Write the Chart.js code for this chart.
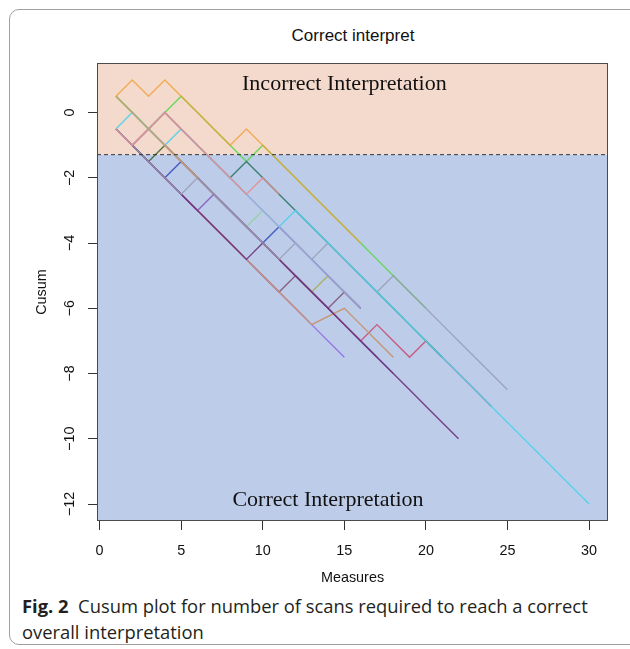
<!DOCTYPE html>
<html>
<head>
<meta charset="utf-8">
<script src="https://cdn.jsdelivr.net/npm/chart.js@4.4.1/dist/chart.umd.min.js"></script>
<style>
    html, body { margin: 0; padding: 0; background: #fff; }
    body { width: 630px; height: 649px; position: relative; overflow: hidden; }
    .card { position: absolute; left: 9px; top: 9px; width: 700px; height: 636px; border: 1px solid #a0a0a0; border-radius: 10px; box-sizing: border-box; }
    .title { position: absolute; left: 0; width: 706px; top: 26px; text-align: center; font: 17px "Liberation Sans", Arial, sans-serif; color: #111; }
    #cusumChart { position: absolute; left: 0; top: 0; }
    .caption { position: absolute; left: 22px; top: 593px; font-family: "Open Sans", "Noto Sans", sans-serif; font-size: 17px; line-height: 26px; color: #231f20; white-space: nowrap; }
    .caption b { font-weight: 700; }
</style>
</head>
<body>
<div class="card"></div>
<div class="title">Correct interpret</div>
<canvas id="cusumChart" width="630" height="590"></canvas>
<div class="caption" id="caption">
    <div id="capLine1"><b>Fig. 2</b>&nbsp; Cusum plot for number of scans required to reach a correct</div>
    <div>overall interpretation</div>
</div>
<script>
(function () {
    const canvas = document.getElementById("cusumChart");
    if (!canvas || typeof Chart === "undefined") {
        return;
    }

    // measures (x) and axis ticks
    const measures = [1, 2, 3, 4, 5, 6, 7, 8, 9, 10, 11, 12, 13, 14, 15, 16, 17, 18, 19, 20, 21, 22, 23, 24, 25, 26, 27, 28, 29, 30];
    const xTicks = [0, 5, 10, 15, 20, 25, 30];
    const yTicks = [0, -2, -4, -6, -8, -10, -12];
    const cutoff = -1.29;

    // cusum per reader (value at measure 1, 2, ...)
    const orangeCusum = [0.5, 1, 0.5, 1, 0.5, 0, -0.5, -1, -0.5, -1, -1.5, -2, -2.5, -3, -3.5, -4];
    const tanCusum = [0.5, 0, -0.5, -1, -1.5, -2];
    const salmonCusum = [-0.5, -1, -0.5, 0, -0.5, -1, -1.5, -2, -2.5, -2, -2.5];
    const lavenderCusum = [-0.5, -1, -0.5, 0, -0.5, -1, -1.5, -2, -2.5, -3, -3.5, -4, -4.5, -5, -5.5, -6];
    const cyanCusum = [-0.5, 0, -0.5, -1, -0.5, -1, -1.5, -2, -2.5, -3, -3.5, -3, -3.5, -4, -4.5, -5, -5.5, -6, -6.5, -7, -7.5, -8, -8.5, -9, -9.5, -10, -10.5, -11, -11.5, -12];
    const grayCusum = [-0.5, -1, -1.5, -2, -2.5, -2, -2.5, -3, -3.5, -4, -4.5, -4, -4.5, -4, -4.5, -5, -5.5, -5, -5.5, -6, -6.5, -7, -7.5, -8, -8.5];
    const tealCusum = [-0.5, -1, -0.5, 0, -0.5, -1, -1.5, -2, -1.5, -2, -2.5, -3, -3.5, -4, -4.5, -5, -5.5, -6, -6.5, -7, -7.5];
    const purpleCusum = [-0.5, -1, -1.5, -2, -2.5, -3, -3.5, -4, -4.5, -4, -4.5, -5, -5.5, -6, -6.5, -7, -7.5, -8, -8.5, -9, -9.5, -10];
    const mediumPurpleCusum = [-0.5, -1, -1.5, -2, -2.5, -3, -2.5, -3, -3.5, -4, -4.5, -5, -5.5, -6, -6.5, -7, -7.5, -8];
    const brownCusum = [-0.5, -1, -1.5, -2, -2.5, -3, -3.5, -4, -4.5, -5, -5.5, -6, -6.5, -6.25, -6, -6.5, -7, -7.5];
    const greenCusum = [0.5, 0, -0.5, 0, 0.5, 0, -0.5, -1, -1.5, -1, -1.5, -2, -2.5, -3, -3.5, -4, -4.5, -5, -5.5, -6];
    const redCusum = [-0.5, -1, -0.5, -1, -1.5, -2, -2.5, -3, -3.5, -4, -4.5, -5, -5.5, -6, -6.5, -7, -6.5, -7, -7.5, -7, -7.5, -8, -8.5, -9];
    const blueCusum = [-0.5, -1, -1.5, -2, -1.5, -2, -2.5, -3, -3.5, -4, -3.5, -4, -4.5, -5, -5.5, -6];
    const lightGreenCusum = [0.5, 0, -0.5, -1, -1.5, -2, -2.5, -3, -3.5, -3, -3.5, -4, -4.5, -5, -5.5];
    const violetCusum = [-0.5, -1, -1.5, -2, -2.5, -3, -3.5, -4, -4.5, -5, -5.5, -6, -6.5, -7, -7.5];
    const darkOliveCusum = [-0.5, -1, -1.5, -1, -1.5, -2, -2.5, -3, -3.5, -4, -4.5, -5, -5.5, -6, -6.5, -7, -7.5];
    const mauveCusum = [-0.5, -1, -1.5, -2, -2.5, -3, -3.5, -4, -4.5, -5, -5.5, -5, -5.5, -6, -5.5, -6];
    const oliveCusum = [0.5, 0, -0.5, -1, -1.5, -2, -2.5, -3, -3.5, -4, -4.5, -5, -5.5, -5, -5.5, -6];

    const regionLabels = [
        { text: "Incorrect Interpretation", x: 15, y: 0.87 },
        { text: "Correct Interpretation", x: 14, y: -11.87 }
    ];

    // first entry is drawn on top
    const readers = [
        { values: orangeCusum, color: "rgba(240, 160, 55, 0.8)" },
        { values: tanCusum, color: "rgba(196, 160, 118, 0.95)" },
        { values: salmonCusum, color: "rgba(232, 140, 140, 0.85)" },
        { values: lavenderCusum, color: "rgba(170, 166, 214, 0.95)" },
        { values: cyanCusum, color: "rgba(80, 208, 235, 0.92)" },
        { values: grayCusum, color: "rgba(150, 158, 180, 0.85)" },
        { values: tealCusum, color: "rgba(44, 120, 100, 0.9)" },
        { values: purpleCusum, color: "rgba(108, 50, 124, 0.9)" },
        { values: mediumPurpleCusum, color: "rgba(140, 90, 190, 0.9)" },
        { values: brownCusum, color: "rgba(200, 145, 108, 0.95)" },
        { values: greenCusum, color: "rgba(90, 215, 75, 0.9)" },
        { values: redCusum, color: "rgba(200, 80, 118, 0.9)" },
        { values: blueCusum, color: "rgba(55, 80, 190, 0.9)" },
        { values: lightGreenCusum, color: "rgba(150, 210, 165, 0.95)" },
        { values: violetCusum, color: "rgba(150, 115, 232, 0.95)" },
        { values: darkOliveCusum, color: "rgba(70, 105, 45, 0.9)" },
        { values: mauveCusum, color: "rgba(130, 85, 120, 0.9)" },
        { values: oliveCusum, color: "rgba(168, 178, 90, 0.95)" }
    ];

    const xMin = -0.16;
    const xMax = 31.16;
    const axisFont = { family: '"Liberation Sans", Arial, sans-serif', size: 14.4 };
    const formatTick = (value) => (value < 0 ? "\u2212" + Math.abs(value) : String(value));

    const datasets = [{
        data: [{ x: xMin, y: cutoff }, { x: xMax, y: cutoff }],
        borderColor: "#333",
        borderWidth: 1,
        borderDash: [4, 3],
        pointRadius: 0
    }].concat(readers.map((reader) => ({
        data: reader.values.map((value, i) => ({ x: measures[i], y: value })),
        borderColor: reader.color,
        borderWidth: 1.4,
        pointRadius: 0,
        tension: 0,
        fill: false
    })));

    const regionPlugin = {
        id: "cusumRegions",
        beforeDatasetsDraw(chart) {
            const { ctx, chartArea: area, scales: { y } } = chart;
            const cut = y.getPixelForValue(cutoff);
            ctx.save();
            ctx.fillStyle = "#f4dacd";
            ctx.fillRect(area.left, area.top, area.right - area.left, cut - area.top);
            ctx.fillStyle = "#bdcce9";
            ctx.fillRect(area.left, cut, area.right - area.left, area.bottom - cut);
            ctx.restore();
        },
        afterDatasetsDraw(chart) {
            const { ctx, chartArea: area, scales: { x, y } } = chart;
            ctx.save();
            ctx.font = '22px "Liberation Serif", "Times New Roman", serif';
            ctx.fillStyle = "#111";
            ctx.textAlign = "center";
            ctx.textBaseline = "middle";
            regionLabels.forEach((label) => {
                ctx.fillText(label.text, x.getPixelForValue(label.x), y.getPixelForValue(label.y));
            });
            ctx.strokeStyle = "#4a4a4a";
            ctx.lineWidth = 1;
            ctx.strokeRect(area.left + 0.5, area.top + 0.5, area.right - area.left - 1, area.bottom - area.top - 1);
            ctx.restore();
        }
    };

    new Chart(canvas, {
        type: "line",
        data: { datasets },
        plugins: [regionPlugin],
        options: {
            responsive: false,
            animation: false,
            layout: { padding: { top: 63, right: 22, bottom: 0, left: 0 } },
            plugins: { legend: { display: false }, tooltip: { enabled: false } },
            scales: {
                x: {
                    type: "linear",
                    min: xMin,
                    max: xMax,
                    afterBuildTicks: (scale) => { scale.ticks = xTicks.map((value) => ({ value })); },
                    afterFit: (scale) => { scale.height = 69; },
                    border: { display: false },
                    grid: { drawOnChartArea: false, drawTicks: true, tickLength: 9, color: "#333" },
                    ticks: { font: axisFont, color: "#111", padding: 12, maxRotation: 0, callback: formatTick },
                    title: { display: true, text: "Measures", font: axisFont, color: "#111", padding: { top: 0, bottom: 3 } }
                },
                y: {
                    type: "linear",
                    min: -12.52,
                    max: 1.52,
                    afterBuildTicks: (scale) => { scale.ticks = yTicks.map((value) => ({ value })); },
                    afterFit: (scale) => { scale.width = 97; },
                    border: { display: false },
                    grid: { drawOnChartArea: false, drawTicks: true, tickLength: 9, color: "#333" },
                    ticks: { font: axisFont, color: "#111", padding: 6, minRotation: 90, maxRotation: 90, crossAlign: "center", callback: formatTick },
                    title: { display: true, text: "Cusum", font: axisFont, color: "#111", padding: { top: 33, bottom: 0 } }
                }
            }
        }
    });

    // fit the caption's first line to the width it has in the figure
    const line1 = document.getElementById("capLine1");
    const caption = document.getElementById("caption");
    const width = line1.getBoundingClientRect().width;
    if (width > 0) {
        caption.style.fontSize = (17 * 566 / width).toFixed(2) + "px";
    }
})();
</script>
</body>
</html>
